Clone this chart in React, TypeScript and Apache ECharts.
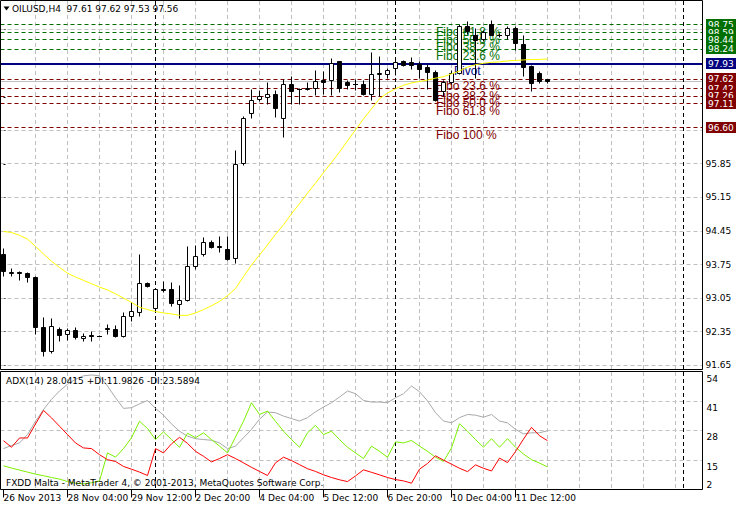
import React, { useEffect, useRef } from "react";
import * as echarts from "echarts";

const symbolName = "OILUSD,H4";
const opens = [93.95, 93.57, 93.59, 93.56, 93.49, 92.43, 91.93, 92.39, 92.30, 92.37,
  92.20, 92.26, 92.25, 92.42, 92.39, 92.25, 92.67, 92.74, 93.36, 92.83,
  93.21, 93.22, 92.92, 93.00, 93.70, 93.97, 94.22, 94.12, 94.07, 93.88,
  95.86, 96.91, 97.20, 97.24, 97.29, 96.80, 97.50, 97.40, 97.41, 97.43,
  97.59, 97.60, 97.98, 97.54, 97.51, 97.50, 97.30, 97.72, 97.72, 97.84,
  97.98, 97.96, 97.93, 97.86, 97.76, 97.37, 97.54, 97.74, 98.72, 98.52,
  98.45, 98.75, 98.52, 98.53, 98.68, 98.35, 97.88, 97.74, 97.61];
const highs = [94.09, 93.66, 93.60, 93.58, 93.50, 92.64, 92.62, 92.43, 92.41, 92.43,
  92.32, 92.36, 92.26, 92.50, 92.48, 92.74, 92.96, 93.97, 93.37, 93.26,
  93.40, 93.38, 93.32, 94.12, 94.14, 94.32, 94.25, 94.34, 94.34, 96.12,
  96.84, 97.41, 97.38, 97.54, 97.39, 97.61, 97.67, 97.43, 97.54, 97.81,
  97.77, 98.05, 97.99, 97.60, 97.61, 97.60, 98.17, 98.09, 97.84, 98.02,
  98.00, 98.07, 97.98, 97.93, 97.80, 97.60, 97.80, 98.76, 98.83, 98.68,
  98.63, 98.85, 98.57, 98.71, 98.71, 98.54, 97.90, 97.77, 97.62];
const lows = [93.50, 93.50, 93.41, 93.38, 92.29, 91.84, 91.89, 92.15, 92.17, 92.18,
  92.15, 92.14, 92.24, 92.29, 92.22, 92.22, 92.57, 92.67, 93.28, 92.80,
  93.17, 92.88, 92.63, 92.98, 93.64, 93.92, 94.09, 94.00, 93.83, 93.77,
  95.82, 96.80, 97.15, 97.08, 96.82, 96.41, 97.08, 97.10, 97.39, 97.27,
  97.29, 97.27, 97.34, 97.41, 97.39, 97.27, 97.18, 97.25, 97.63, 97.70,
  97.89, 97.83, 97.64, 97.41, 97.16, 97.25, 97.50, 97.72, 98.55, 97.64,
  98.40, 98.52, 98.49, 98.44, 98.22, 97.67, 97.36, 97.53, 97.53];
const closes = [93.61, 93.58, 93.56, 93.49, 92.44, 91.93, 92.45, 92.27, 92.37, 92.22,
  92.24, 92.24, 92.25, 92.40, 92.25, 92.66, 92.78, 93.36, 93.29, 93.22,
  93.22, 92.94, 92.99, 93.71, 93.92, 94.22, 94.11, 94.11, 93.85, 95.84,
  96.80, 97.18, 97.25, 97.29, 97.01, 97.50, 97.36, 97.41, 97.42, 97.56,
  97.54, 97.95, 97.43, 97.48, 97.51, 97.29, 97.72, 97.73, 97.79, 97.96,
  97.90, 97.91, 97.83, 97.76, 97.18, 97.54, 97.74, 98.72, 98.62, 98.43,
  98.59, 98.54, 98.53, 98.68, 98.36, 97.86, 97.53, 97.58, 97.56];
const maValues = [94.44, 94.42, 94.36, 94.28, 94.13, 93.97, 93.82, 93.69, 93.57, 93.49,
  93.42, 93.35, 93.28, 93.22, 93.14, 93.05, 92.96, 92.86, 92.81, 92.77,
  92.74, 92.72, 92.69, 92.69, 92.74, 92.81, 92.89, 92.98, 93.10, 93.25,
  93.50, 93.74, 93.95, 94.16, 94.38, 94.58, 94.81, 95.02, 95.24, 95.45,
  95.67, 95.88, 96.10, 96.33, 96.56, 96.79, 97.00, 97.21, 97.33, 97.42,
  97.49, 97.54, 97.57, 97.60, 97.64, 97.67, 97.73, 97.79, 97.87, 97.92,
  97.95, 97.97, 97.98, 98.00, 98.01, 98.02, 98.03, 98.03, 98.04];
const adxValues = [20.1, 21.5, 22.6, 26.3, 32.2, 37.4, 41.9, 45.6, 48.6, 50.8,
  52.3, 52.7, 52.3, 47.8, 42.6, 37.9, 38.2, 39.9, 41.4, 37.9,
  34.9, 31.0, 27.8, 25.6, 24.5, 24.1, 23.8, 22.6, 20.1, 21.2,
  24.9, 28.6, 33.1, 36.3, 36.0, 34.5, 33.4, 32.3, 33.8, 36.4,
  38.5, 40.4, 42.9, 45.6, 44.4, 41.4, 40.7, 40.7, 40.4, 42.6,
  44.4, 47.8, 45.3, 41.2, 36.0, 32.3, 31.5, 33.8, 35.2, 34.9,
  34.0, 35.2, 32.3, 31.5, 28.6, 26.6, 27.1, 27.1, 28.0];
const plusDiValues = [12.5, 11.5, 10.6, 9.7, 8.8, 8.1, 7.3, 6.6, 5.5, 4.8,
  4.5, 5.0, 5.8, 18.2, 16.3, 20.1, 24.9, 32.2, 29.0, 24.1,
  27.5, 24.1, 20.7, 26.9, 24.9, 27.1, 24.1, 21.2, 18.2, 25.2,
  32.2, 40.4, 35.2, 36.7, 32.2, 27.8, 24.1, 20.7, 27.1, 30.4,
  26.3, 27.8, 24.1, 20.7, 18.2, 15.7, 21.2, 18.9, 16.3, 23.1,
  22.6, 23.7, 21.2, 18.9, 16.3, 14.4, 20.4, 31.1, 27.8, 24.1,
  20.7, 24.5, 20.7, 24.5, 20.7, 17.7, 15.2, 13.7, 12.0];
const minusDiValues = [23.6, 20.7, 24.8, 24.8, 31.0, 37.0, 33.7, 30.0, 26.3, 22.6,
  20.4, 20.1, 17.4, 15.2, 14.4, 12.2, 11.0, 9.7, 8.2, 20.1,
  18.2, 22.2, 25.1, 22.4, 18.9, 16.7, 14.2, 15.7, 17.4, 15.7,
  13.8, 11.8, 10.0, 8.2, 13.8, 16.3, 14.8, 13.0, 11.2, 10.0,
  8.5, 7.3, 6.3, 5.5, 8.0, 10.7, 9.6, 8.5, 7.3, 6.4,
  5.8, 4.8, 11.0, 13.5, 16.9, 15.0, 13.2, 11.4, 9.9, 12.9,
  11.4, 10.2, 15.9, 13.9, 18.8, 24.3, 29.5, 25.8, 23.6];

const timeLabels = ["26 Nov 2013", "28 Nov 04:00", "29 Nov 12:00", "2 Dec 20:00", "4 Dec 04:00",
  "5 Dec 12:00", "6 Dec 20:00", "10 Dec 04:00", "11 Dec 12:00"];
const timeLabelBars = [0, 8, 16, 24, 32, 40, 48, 56, 64];
const priceTicks = [91.65, 92.35, 93.05, 93.75, 94.45, 95.15, 95.85, 96.55, 97.25, 97.95, 98.65];
const adxTicks = [2, 15, 28, 41, 54];
const adxGridLevels = [15, 28, 41];
const gridBars = [4, 8, 12, 16, 20, 24, 28, 32, 36, 40, 44, 48, 52, 56, 60, 64, 68, 72, 76, 80, 84];
const separatorBars = [19, 49, 85];
const pivotPrice = [97.93];
const bidPrice = [97.56];
const fiboUpperPrices = [98.75, 98.59, 98.44, 98.24];
const fiboUpperLabels = ["Fibo 61.8 %", "Fibo 50.0 %", "Fibo 38.2 %", "Fibo 23.6 %"];
const fiboLowerPrices = [97.62, 97.42, 97.26, 97.11, 96.60];
const fiboLowerLabels = ["Fibo 23.6 %", "Fibo 38.2 %", "Fibo 50.0 %", "Fibo 61.8 %", "Fibo 100 %"];
const pivotLabels = ["Pivot"];
const fiboLabelBar = 54;
const pivotLabelBar = 56.3;
const adxTitle = "ADX(14) 28.0415 +DI:11.9826 -DI:23.5894";
const footerText = "FXDD Malta - MetaTrader 4, \u00A9 2001-2013, MetaQuotes Software Corp.";

const GREEN = "#006f00";
const MAROON = "#800000";
const NAVY = "#000080";
const SILVER = "#c0c0c0";
const SMALL_FONT = '"DejaVu Sans", sans-serif';
const OBJ_FONT = '12px "Liberation Sans", Arial, sans-serif';

const snap = (v: number) => Math.round(v - 0.5) + 0.5;

function hLines(gi: number, prices: number[], color: string, width: number, dash: number[] | undefined, z: number) {
  return {
    type: "custom", xAxisIndex: gi, yAxisIndex: gi, z, silent: true,
    data: prices.map((p) => [0, p]),
    encode: { x: 0, y: 1 },
    renderItem: (params: any, api: any) => {
      const cs = params.coordSys;
      const raw = api.coord([0, api.value(1)])[1];
      const y = width % 2 === 1 ? snap(raw) : Math.round(raw);
      return {
        type: "line",
        shape: { x1: cs.x, y1: y, x2: cs.x + cs.width, y2: y },
        style: { stroke: color, lineWidth: width, lineDash: dash },
      };
    },
  };
}

function vLines(gi: number, bars: number[], yRef: number, color: string, dash: number[], z: number) {
  return {
    type: "custom", xAxisIndex: gi, yAxisIndex: gi, z, silent: true,
    data: bars.map((b) => [b, yRef]),
    encode: { x: 0, y: 1 },
    renderItem: (params: any, api: any) => {
      const cs = params.coordSys;
      const x = snap(api.coord([api.value(0), yRef])[0]);
      return {
        type: "line",
        shape: { x1: x, y1: cs.y, x2: x, y2: cs.y + cs.height },
        style: { stroke: color, lineWidth: 1, lineDash: dash },
      };
    },
  };
}

function textLabels(bar: number, prices: number[], labels: string[], color: string) {
  return {
    type: "custom", xAxisIndex: 0, yAxisIndex: 0, z: 4, silent: true,
    data: prices.map((p) => [bar, p]),
    encode: { x: 0, y: 1 },
    renderItem: (params: any, api: any) => {
      const pt = api.coord([api.value(0), api.value(1)]);
      return {
        type: "text",
        x: Math.round(pt[0]),
        y: Math.round(pt[1]) + 1,
        style: { text: labels[params.dataIndex], fill: color, font: OBJ_FONT, align: "left", verticalAlign: "top" },
      };
    },
  };
}

function lineSeries(gi: number, values: number[], color: string, z: number) {
  return {
    type: "line", xAxisIndex: gi, yAxisIndex: gi, z, silent: true,
    data: values.map((v, i) => [i, v]),
    symbol: "none", showSymbol: false,
    lineStyle: { color, width: 1 },
    emphasis: { disabled: true },
  };
}

export default function App() {
  const ref = useRef<HTMLDivElement>(null);
  useEffect(() => {
    if (!ref.current) return;
    const chart = echarts.init(ref.current, null, { renderer: "svg" });
    const last = closes.length - 1;
    const header = `${symbolName}  ${opens[last].toFixed(2)} ${highs[last].toFixed(2)} ${lows[last].toFixed(2)} ${closes[last].toFixed(2)}`;
    const boxPrices = [...fiboUpperPrices, ...pivotPrice, ...fiboLowerPrices];
    const boxColors = [...fiboUpperPrices.map(() => GREEN), ...pivotPrice.map(() => NAVY), ...fiboLowerPrices.map(() => MAROON)];
    const candleData = opens.map((o, i) => [i, o, closes[i], lows[i], highs[i]]);

    const option: any = {
      animation: false,
      backgroundColor: "#ffffff",
      grid: [
        { left: 0.5, top: 1, width: 702, height: 368, show: false },
        { left: 0.5, top: 372, width: 702, height: 117.5, show: false },
      ],
      xAxis: [
        { type: "value", gridIndex: 0, min: -0.375, max: 87.375, show: false },
        {
          type: "value", gridIndex: 1, min: -0.375, max: 87.375,
          axisLine: { show: false },
          axisTick: { show: true, customValues: timeLabelBars, length: 8, lineStyle: { color: "#000" } },
          axisLabel: {
            show: true, customValues: timeLabelBars,
            formatter: (v: number) => timeLabels[timeLabelBars.indexOf(v)] ?? "",
            align: "left", margin: 4, color: "#000", fontSize: 9, fontFamily: SMALL_FONT,
          },
          splitLine: { show: false },
        },
      ],
      yAxis: [
        {
          type: "value", gridIndex: 0, position: "right", min: 91.57, max: 99.25,
          axisLine: { show: false },
          axisTick: { show: true, customValues: priceTicks, length: 2, lineStyle: { color: "#000" } },
          axisLabel: {
            show: true, customValues: priceTicks, formatter: (v: number) => v.toFixed(2),
            margin: 3, color: "#000", fontSize: 9, fontFamily: SMALL_FONT,
          },
          splitLine: { show: false },
        },
        {
          type: "value", gridIndex: 1, position: "right", min: 2, max: 54,
          axisLine: { show: false }, axisTick: { show: false },
          axisLabel: {
            show: true, customValues: adxTicks.slice(1), formatter: (v: number) => String(v),
            verticalAlign: "top", padding: [2, 0, 0, 0], margin: 4, color: "#000", fontSize: 9, fontFamily: SMALL_FONT,
          },
          splitLine: { show: false },
        },
        {
          type: "value", gridIndex: 1, position: "right", min: 2, max: 54,
          axisLine: { show: false }, axisTick: { show: false },
          axisLabel: {
            show: true, customValues: adxTicks.slice(0, 1), formatter: (v: number) => String(v),
            verticalAlign: "bottom", margin: 4, color: "#000", fontSize: 9, fontFamily: SMALL_FONT,
          },
          splitLine: { show: false },
        },
      ],
      series: [
        hLines(0, priceTicks, SILVER, 1, [4, 3], 1),
        vLines(0, gridBars, priceTicks[0], SILVER, [4, 3], 1),
        hLines(1, adxGridLevels, SILVER, 1, [4, 3], 1),
        vLines(1, gridBars, adxTicks[1], SILVER, [4, 3], 1),
        hLines(0, bidPrice, SILVER, 1, undefined, 2),
        hLines(0, fiboUpperPrices, GREEN, 1, [4, 3], 2),
        hLines(0, fiboLowerPrices, MAROON, 1, [4, 3], 2),
        hLines(0, pivotPrice, NAVY, 2, undefined, 2),
        vLines(0, separatorBars, priceTicks[0], "#000", [4, 3], 3),
        vLines(1, separatorBars, adxTicks[1], "#000", [4, 3], 3),
        textLabels(fiboLabelBar, fiboUpperPrices, fiboUpperLabels, GREEN),
        textLabels(fiboLabelBar, fiboLowerPrices, fiboLowerLabels, MAROON),
        textLabels(pivotLabelBar, pivotPrice, pivotLabels, NAVY),
        {
          type: "custom", xAxisIndex: 0, yAxisIndex: 0, z: 10, silent: true,
          data: candleData,
          encode: { x: 0, y: [1, 2, 3, 4] },
          renderItem: (params: any, api: any) => {
            const idx = api.value(0);
            const o = api.value(1), c = api.value(2), l = api.value(3), h = api.value(4);
            const pO = api.coord([idx, o]);
            const pC = api.coord([idx, c]);
            const pH = api.coord([idx, h]);
            const pL = api.coord([idx, l]);
            const x = snap(pO[0]);
            const yT = snap(Math.min(pO[1], pC[1]));
            const yB = snap(Math.max(pO[1], pC[1]));
            const children: any[] = [
              { type: "line", shape: { x1: x, y1: snap(pH[1]), x2: x, y2: snap(pL[1]) }, style: { stroke: "#000", lineWidth: 1 } },
            ];
            if (yB - yT < 1) {
              children.push({ type: "line", shape: { x1: x - 2.5, y1: yT, x2: x + 2.5, y2: yT }, style: { stroke: "#000", lineWidth: 1 } });
            } else {
              children.push({
                type: "rect", shape: { x: x - 2, y: yT, width: 4, height: yB - yT },
                style: { fill: c >= o ? "#ffffff" : "#000000", stroke: "#000", lineWidth: 1 },
              });
            }
            return { type: "group", children };
          },
        },
        lineSeries(0, maValues, "#ffff00", 11),
        lineSeries(1, adxValues, "#a8a8a8", 5),
        lineSeries(1, plusDiValues, "#7cf000", 6),
        lineSeries(1, minusDiValues, "#ff0000", 7),
        {
          type: "custom", xAxisIndex: 0, yAxisIndex: 0, z: 20, silent: true,
          data: boxPrices.map((p) => [0, p]),
          encode: { x: 0, y: 1 },
          renderItem: (params: any, api: any) => {
            const cs = params.coordSys;
            const price = api.value(1);
            const y = Math.round(api.coord([0, price])[1]);
            const x0 = cs.x + cs.width + 3.5;
            return {
              type: "group",
              children: [
                { type: "rect", shape: { x: x0, y: y - 6, width: 30, height: 11 }, style: { fill: boxColors[params.dataIndex] } },
                {
                  type: "text", x: x0 + 2, y: y - 0.5,
                  style: { text: price.toFixed(2), fill: "#ffffff", font: `9px ${SMALL_FONT}`, align: "left", verticalAlign: "middle" },
                },
              ],
            };
          },
        },
      ],
      graphic: [
        { type: "rect", z: 50, silent: true, shape: { x: 0.5, y: 0.5, width: 702, height: 369 }, style: { fill: "none", stroke: "#000", lineWidth: 1 } },
        { type: "rect", z: 50, silent: true, shape: { x: 0.5, y: 371.5, width: 702, height: 118 }, style: { fill: "none", stroke: "#000", lineWidth: 1 } },
        { type: "polygon", z: 50, silent: true, shape: { points: [[3.5, 6.5], [9.5, 6.5], [6.5, 10.5]] }, style: { fill: "#000" } },
        { type: "text", z: 50, silent: true, x: 12, y: 9, style: { text: header, fill: "#000", font: `9px ${SMALL_FONT}`, verticalAlign: "middle" } },
        { type: "text", z: 50, silent: true, x: 6, y: 381, style: { text: adxTitle, fill: "#000", font: `9px ${SMALL_FONT}`, verticalAlign: "middle" } },
        { type: "text", z: 50, silent: true, x: 6, y: 483, style: { text: footerText, fill: "#000", font: `9px ${SMALL_FONT}`, verticalAlign: "middle" } },
      ],
    };
    chart.setOption(option);
    return () => chart.dispose();
  }, []);
  return <div ref={ref} style={{ position: "fixed", left: 0, top: 0, width: 743, height: 509, background: "#fff" }} />;
}
